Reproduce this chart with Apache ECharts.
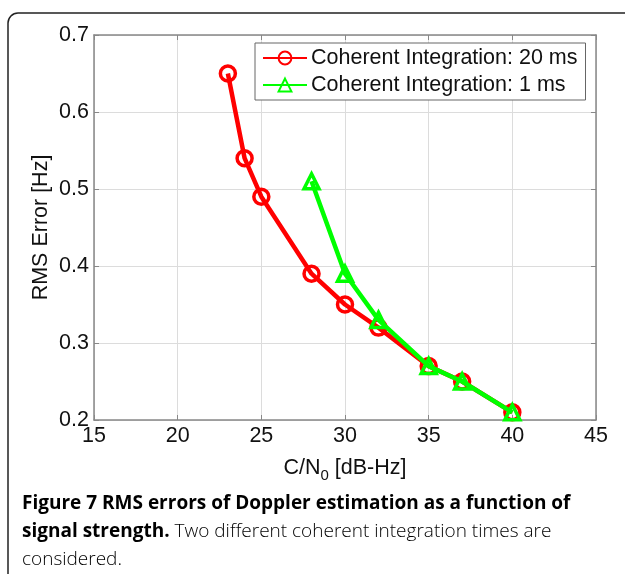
<!DOCTYPE html>
<html><head><meta charset="utf-8">
<script src="https://cdn.jsdelivr.net/npm/echarts@6/dist/echarts.min.js"></script>
<style>html,body{margin:0;padding:0;background:#fff}#c{width:625px;height:574px}</style>
</head><body><div id="c"></div>
<script>
const xTicks = [15, 20, 25, 30, 35, 40, 45];
const yTicks = [0.2, 0.3, 0.4, 0.5, 0.6, 0.7];
const cn0_20ms = [23, 24, 25, 28, 30, 32, 35, 37, 40];
const rms_20ms = [0.65, 0.54, 0.49, 0.39, 0.35, 0.32, 0.27, 0.25, 0.21];
const cn0_1ms = [28, 30, 32, 35, 37, 40];
const rms_1ms = [0.51, 0.39, 0.33, 0.27, 0.25, 0.21];
const seriesNames = ['Coherent Integration: 20 ms', 'Coherent Integration: 1 ms'];

const chart = echarts.init(document.getElementById('c'), null, {renderer: 'canvas'});
const axisFont = 'Liberation Sans, Arial, sans-serif';
const fs = 21.5;
const pair = (xs, ys) => xs.map((x, i) => [x, ys[i]]);
const baseX = {
  type: 'value', min: xTicks[0], max: xTicks[xTicks.length - 1], interval: 5,
  axisLine: {show: true, lineStyle: {color: '#888', width: 1.5}},
  axisTick: {show: true, inside: true, length: 5, lineStyle: {color: '#888'}},
  splitLine: {show: false}
};
const baseY = {
  type: 'value', min: yTicks[0], max: yTicks[yTicks.length - 1], interval: 0.1,
  axisLine: {show: true, lineStyle: {color: '#888', width: 1.5}},
  axisTick: {show: true, inside: true, length: 5, lineStyle: {color: '#888'}},
  splitLine: {show: false}
};
chart.setOption({
  animation: false,
  grid: {left: 94, top: 35, right: 29, bottom: 154, containLabel: false},
  xAxis: [
    Object.assign({}, baseX, {
      position: 'bottom',
      splitLine: {show: true, lineStyle: {color: '#dcdcdc', width: 1}},
      axisLabel: {color: '#111', fontSize: fs, fontFamily: axisFont, margin: 5,
        formatter: v => String(v)},
      name: '{a|C/N}{s|0}{a| [dB-Hz]}',
      nameLocation: 'middle', nameGap: 34,
      nameTextStyle: {rich: {
        a: {fontSize: fs, fontFamily: axisFont, color: '#111'},
        s: {fontSize: 15, fontFamily: axisFont, color: '#111', verticalAlign: 'bottom', padding: [14, 0, 0, 0]}
      }}
    }),
    Object.assign({}, baseX, {position: 'top', axisLabel: {show: false}})
  ],
  yAxis: [
    Object.assign({}, baseY, {
      position: 'left',
      splitLine: {show: true, lineStyle: {color: '#dcdcdc', width: 1}},
      axisLabel: {color: '#111', fontSize: fs, fontFamily: axisFont, margin: 5,
        formatter: v => v.toFixed(1)},
      name: 'RMS Error [Hz]', nameLocation: 'middle', nameGap: 42, nameRotate: 90,
      nameMoveOverlap: false,
      nameTextStyle: {fontSize: fs, fontFamily: axisFont, color: '#111'}
    }),
    Object.assign({}, baseY, {position: 'right', axisLabel: {show: false}})
  ],
  legend: {
    show: true, orient: 'vertical', left: 255, top: 43,
    backgroundColor: '#fff', borderColor: '#666', borderWidth: 1,
    padding: [4, 8, 4, 7], itemGap: 5, itemWidth: 44, itemHeight: 16,
    textStyle: {fontSize: fs, fontFamily: axisFont, color: '#111', padding: [0, 0, 0, -1]},
    data: seriesNames
  },
  series: [
    {
      name: seriesNames[0], type: 'line', data: pair(cn0_20ms, rms_20ms),
      symbol: 'circle', symbolSize: 15,
      lineStyle: {color: '#ff0000', width: 4.5},
      itemStyle: {color: 'rgba(255,255,255,0)', borderColor: '#ff0000', borderWidth: 3.5},
      emphasis: {disabled: true}, z: 2
    },
    {
      name: seriesNames[1], type: 'line', data: pair(cn0_1ms, rms_1ms),
      symbol: 'triangle', symbolSize: 15,
      lineStyle: {color: '#00ff00', width: 4.5},
      itemStyle: {color: 'rgba(255,255,255,0)', borderColor: '#00ff00', borderWidth: 3.5},
      emphasis: {disabled: true}, z: 3
    }
  ],
  graphic: [
    {type: 'rect', z: -10, silent: true,
      shape: {x: 8, y: 13, width: 640, height: 620, r: 10},
      style: {fill: 'none', stroke: '#222', lineWidth: 1.5}},
    {type: 'text', left: 22, top: 494, silent: true,
      style: {
        text: '{b|Figure 7 RMS errors of Doppler estimation as a function of}\n{b|signal strength.}{r| Two different coherent integration times are}\n{r|considered.}',
        rich: {
          b: {fontFamily: 'Open Sans', fontWeight: 'bold', fontSize: 19, color: '#222', lineHeight: 28},
          r: {fontFamily: 'Open Sans', fontWeight: 300, fontSize: 19, color: '#444', lineHeight: 28}
        }
      }}
  ]
});
</script></body></html>
